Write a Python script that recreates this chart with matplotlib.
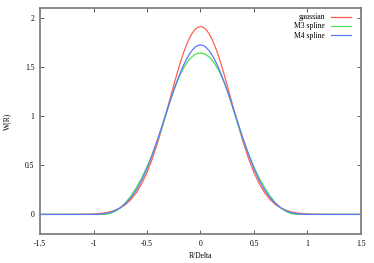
import matplotlib
matplotlib.use('Agg')
import matplotlib.pyplot as plt

plt.rcParams['font.family'] = ['Liberation Serif', 'DejaVu Serif']
plt.rcParams['axes.unicode_minus'] = False

# R/Delta sample points for R >= 0 (finer near the peak)
r_half = [0.0, 0.025, 0.05, 0.075, 0.1, 0.125, 0.15, 0.175, 0.2, 0.225, 0.25,
          0.275, 0.3, 0.35, 0.4, 0.45, 0.5, 0.55, 0.6, 0.65, 0.7, 0.75, 0.8,
          0.85, 0.9, 0.95, 1.0, 1.05, 1.1, 1.15, 1.2, 1.25, 1.3, 1.35, 1.4,
          1.45, 1.5]

gauss_half = [1.910, 1.9028, 1.8815, 1.8465, 1.7987, 1.7390, 1.6687, 1.5893,
              1.5024, 1.4096, 1.3126, 1.2133, 1.1130, 0.9158, 0.7313, 0.5667,
              0.4262, 0.3110, 0.2203, 0.1514, 0.1010, 0.0654, 0.0410, 0.0250,
              0.0148, 0.0085, 0.0047, 0.0026, 0.0013, 0.0007, 0.0003, 0.0,
              0.0, 0.0, 0.0, 0.0, 0.0]
m3_half = [1.641, 1.6371, 1.6257, 1.6066, 1.5799, 1.5455, 1.5035, 1.4539,
           1.3966, 1.3317, 1.2592, 1.1790, 1.0912, 0.9163, 0.7566, 0.6123,
           0.4832, 0.3693, 0.2708, 0.1875, 0.1194, 0.0667, 0.0292, 0.0070,
           0.0, 0.0, 0.0, 0.0, 0.0, 0.0, 0.0, 0.0,
           0.0, 0.0, 0.0, 0.0, 0.0]
m4_half = [1.724, 1.7180, 1.7007, 1.6729, 1.6355, 1.5895, 1.5356, 1.4749,
           1.4082, 1.3364, 1.2604, 1.1811, 1.0994, 0.9323, 0.7663, 0.6084,
           0.4662, 0.3457, 0.2481, 0.1707, 0.1115, 0.0678, 0.0373, 0.0177,
           0.0066, 0.0015, 0.0001, 0.0, 0.0, 0.0, 0.0, 0.0,
           0.0, 0.0, 0.0, 0.0, 0.0]

# curves are symmetric about R = 0
r_delta = [-r for r in r_half[:0:-1]] + r_half
gaussian = gauss_half[:0:-1] + gauss_half
m3_spline = m3_half[:0:-1] + m3_half
m4_spline = m4_half[:0:-1] + m4_half

x_ticks = [-1.5, -1, -0.5, 0, 0.5, 1, 1.5]
x_labels = ['-1.5', '-1', '-0.5', '0', '0.5', '1', '1.5']
y_ticks = [0, 0.5, 1, 1.5, 2]
y_labels = ['0', '0.5', '1', '1.5', '2']

fig = plt.figure(figsize=(3.74, 2.63), dpi=100)
ax = fig.add_axes([0.107, 0.110, 0.858, 0.860])

ax.plot(r_delta, gaussian, color='#ff6050', lw=0.9, label='gaussian')
ax.plot(r_delta, m3_spline, color='#50e050', lw=0.9, label='M3 spline')
ax.plot(r_delta, m4_spline, color='#5a78ff', lw=0.9, label='M4 spline')

ax.set_xlim(-1.5, 1.5)
ax.set_ylim(-0.2, 2.1)
ax.set_xticks(x_ticks)
ax.set_xticklabels(x_labels)
ax.set_yticks(y_ticks)
ax.set_yticklabels(y_labels)

for s in ax.spines.values():
    s.set_color('#808080')
    s.set_linewidth(1.3)
ax.tick_params(direction='in', length=3, width=0.7, color='#606060',
               labelsize=5.5, top=True, right=True, pad=4)

ax.set_xlabel('R/Delta', fontsize=5.5, labelpad=3)
ax.set_ylabel('W(R)', fontsize=5.5, labelpad=10)

ax.legend(loc='upper right', bbox_to_anchor=(0.985, 1.0), frameon=False,
          fontsize=5.5, markerfirst=False, handlelength=2.6,
          handletextpad=0.8, labelspacing=0.15, borderpad=0.2,
          borderaxespad=0.5)

fig.savefig('out.png', dpi=100)
